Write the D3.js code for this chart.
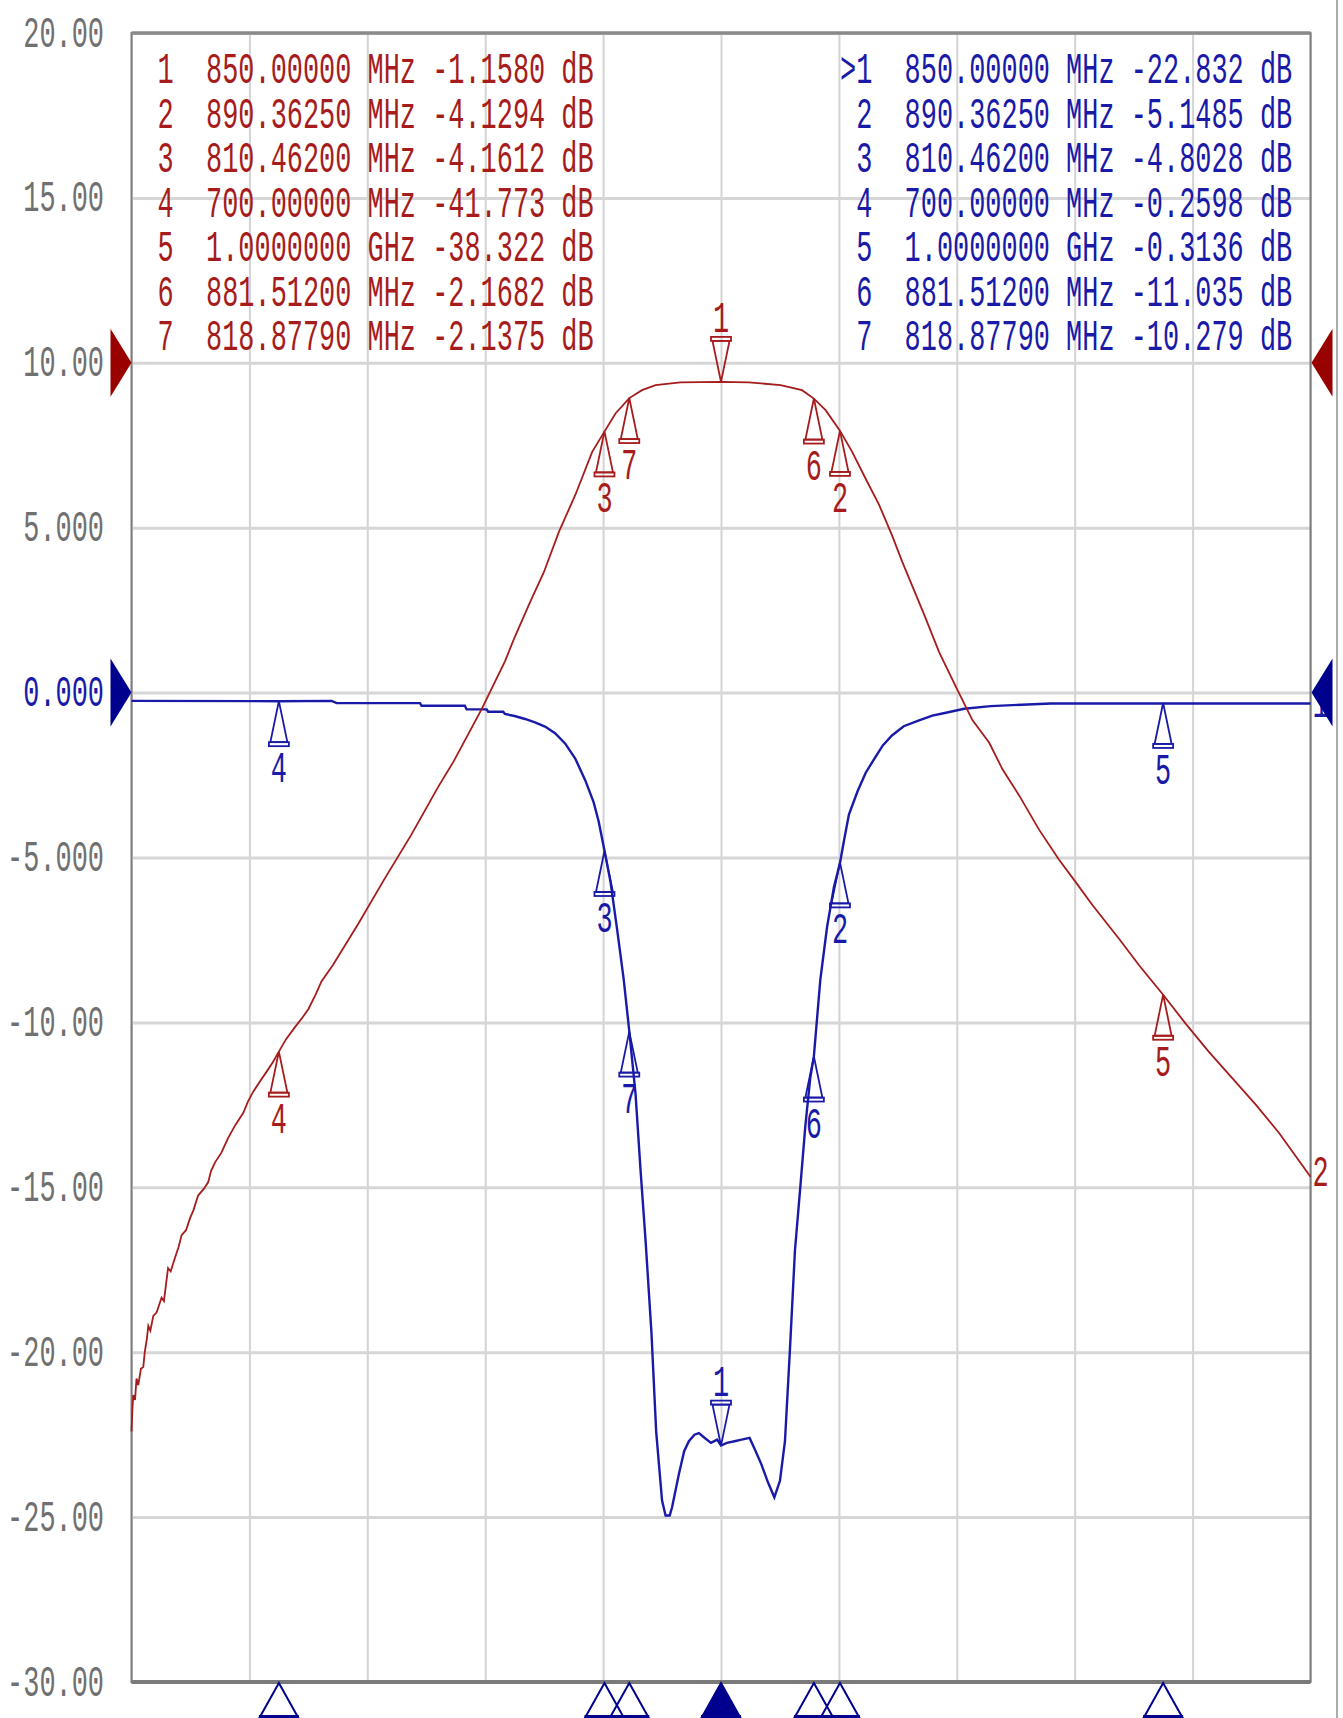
<!DOCTYPE html>
<html>
<head>
<meta charset="utf-8">
<script src="https://cdn.jsdelivr.net/npm/d3@7"></script>
<style>
  html, body { margin: 0; padding: 0; background: #fff; }
  svg { display: block; }
  text { font-family: "Liberation Mono", "DejaVu Sans Mono", monospace; white-space: pre; }
</style>
</head>
<body>
<svg id="chart" width="1343" height="1718"></svg>
<script>
// ---- data ----
const freqTicks = [650, 690, 730, 770, 810, 850, 890, 930, 970, 1010, 1050];
const yTicks = [20, 15, 10, 5, 0, -5, -10, -15, -20, -25, -30];
const yTickLabels = ["20.00", "15.00", "10.00", "5.000", "0.000", "-5.000",
  "-10.00", "-15.00", "-20.00", "-25.00", "-30.00"];

// S21 (red), real dB, 10 dB/div, ref 0 dB at the 10.00 line
const s21Freq = [
  650, 650.3, 650.6, 651.2, 651.7, 652.3, 653.2, 654.0, 654.5, 655.2,
  655.7, 656.4, 657.4, 658.5, 660.2, 661.0, 662.4, 663.3, 664.7, 666.0,
  667.0, 668.5, 669.8, 671.0, 672.6, 674.5, 676.0, 677.0, 678.3, 680.5,
  682.8, 685.3, 687.9, 689.5, 691.3, 693.5, 695.8, 698.0, 700.0, 702.5,
  705.4, 708.0, 710.0, 712.5, 714.5, 718.4, 727.0, 735.5, 745.0, 754.1,
  759.2, 768.8, 776.7, 780.1, 785.0, 789.9, 795.0, 800.6, 806.3, 810.5,
  814.2, 818.9, 823.2, 827.8, 836.2, 850.0, 859.4, 870.2, 877.5, 881.5,
  885.5, 890.4, 894.5, 899.0, 903.6, 908.0, 911.5, 918.9, 924.0, 930.2,
  935.3, 941.0, 945.5, 951.2, 957.9, 964.7, 970.4, 976.0, 985.1, 991.9,
  1000.0, 1007.7, 1015.6, 1023.6, 1031.5, 1039.4, 1050.0
];
const s21Db = [
  -64.8, -63.5, -62.6, -62.9, -61.6, -62.0, -61.0, -60.9, -60.0, -59.2,
  -58.4, -58.7, -57.8, -57.6, -56.7, -56.9, -54.9, -55.1, -54.3, -53.6,
  -52.9, -52.6, -51.9, -51.4, -50.5, -50.1, -49.7, -49.0, -48.5, -47.9,
  -47.0, -46.2, -45.5, -44.8, -44.2, -43.6, -43.0, -42.4, -41.77, -41.0,
  -40.3, -39.7, -39.2, -38.3, -37.5, -36.5, -34.0, -31.4, -28.6, -25.7,
  -24.2, -21.0, -18.1, -16.6, -14.6, -12.7, -10.25, -8.0, -5.4, -4.16,
  -3.07, -2.14, -1.66, -1.35, -1.19, -1.16, -1.19, -1.35, -1.66, -2.17,
  -2.87, -4.13, -5.4, -7.0, -8.6, -10.45, -12.07, -15.26, -17.55, -19.84,
  -21.67, -23.04, -24.65, -26.25, -28.31, -30.14, -31.51, -32.88, -34.94, -36.55,
  -38.32, -40.09, -41.8, -43.41, -45.0, -46.72, -49.36
];

// S11 (blue), 5 dB/div, ref 0 dB at the 0.000 line
const s11Freq = [
  650, 700, 717.9, 719.6, 747.9, 748.4, 763.1, 763.7, 770.5, 771,
  776.1, 776.7, 780, 783.5, 786.9, 790.3, 793.7, 797.1, 800.5, 804,
  806.8, 808.5, 810.5, 812.5, 814.8, 817, 818.9, 821, 822.7, 824.4,
  826.4, 828, 830, 831.2, 832.6, 833.4, 835.7, 837.5, 839.1, 841,
  842.5, 844.5, 846.6, 848.7, 850, 852, 854.6, 857, 859.7, 861.5,
  863.7, 866, 868.1, 870, 871.7, 873.4, 875.1, 876.9, 878.6, 880.3,
  881.5, 883.7, 886, 888.3, 890.4, 891.7, 893.4, 896.3, 899.1, 902,
  904.9, 908, 912, 917.2, 921.7, 926.3, 932.5, 941.5, 961.9, 1050
];
const s11Db = [
  -0.25, -0.26, -0.25, -0.32, -0.32, -0.40, -0.40, -0.51, -0.51, -0.58,
  -0.58, -0.65, -0.71, -0.80, -0.90, -1.03, -1.23, -1.54, -1.99, -2.67,
  -3.33, -3.91, -4.80, -5.73, -7.21, -8.70, -10.28, -12.16, -14.47, -16.6,
  -19.4, -22.4, -24.5, -24.95, -24.95, -24.7, -23.7, -23.0, -22.7, -22.5,
  -22.45, -22.6, -22.75, -22.65, -22.83, -22.75, -22.7, -22.65, -22.6, -22.95,
  -23.4, -23.96, -24.4, -23.9, -22.7, -19.9, -16.9, -15.0, -13.15, -11.67,
  -11.04, -8.70, -7.1, -5.9, -5.15, -4.5, -3.7, -3.0, -2.43, -2.01,
  -1.6, -1.3, -1.02, -0.84, -0.70, -0.61, -0.49, -0.41, -0.33, -0.33
];

const markerIds = [1, 2, 3, 4, 5, 6, 7];
const markerFreq = [850, 890.3625, 810.462, 700, 1000, 881.512, 818.8779];
const s21MarkerDb = [-1.1580, -4.1294, -4.1612, -41.773, -38.322, -2.1682, -2.1375];
const s11MarkerDb = [-22.832, -5.1485, -4.8028, -0.2598, -0.3136, -11.035, -10.279];

// ---- layout ----
const plot = { left: 131.5, right: 1310.5, top: 33, bottom: 1682 };
const RED = "#a61c1c", RED_DARK = "#990000";
const BLUE = "#1a1aa8", BLUE_DARK = "#00008f";
const GRAY_TEXT = "#707070";
const FONT_SIZE = 44;
const CHAR_W = 16.15;

const x = d3.scaleLinear().domain([650, 1050]).range([plot.left, plot.right]);
const y = d3.scaleLinear().domain([-30, 20]).range([plot.bottom, plot.top]);
const yRed = d3.scaleLinear().domain([-80, 20]).range([plot.bottom, plot.top]);

const svg = d3.select("#chart");

function fmtDb(v) {
  const intDigits = String(Math.floor(Math.abs(v))).length;
  return v.toFixed(5 - intDigits);
}
function fmtFreq(f) {
  return f >= 1000 ? `${(f / 1000).toFixed(7)} GHz` : `${f.toFixed(5)} MHz`;
}
function squeeze(sel) {
  sel.attr("textLength", (d, i, n) => n[i].textContent.length * CHAR_W)
    .attr("lengthAdjust", "spacingAndGlyphs");
}

// grid
svg.append("g")
  .attr("transform", `translate(0,${plot.bottom})`)
  .call(d3.axisBottom(x).tickValues(freqTicks).tickSize(-(plot.bottom - plot.top)).tickFormat(""))
  .call(g => g.select(".domain").remove())
  .call(g => g.selectAll("line").attr("stroke", "#d3d3d3").attr("stroke-width", 2));

svg.append("g")
  .attr("transform", `translate(${plot.left},0)`)
  .call(d3.axisLeft(y).tickValues(yTicks).tickSize(-(plot.right - plot.left)).tickFormat(""))
  .call(g => g.select(".domain").remove())
  .call(g => g.selectAll("line").attr("stroke", "#d6d6d6").attr("stroke-width", 3));

// y labels
svg.append("g")
  .attr("transform", "translate(104,0)")
  .call(d3.axisLeft(y).tickValues(yTicks).tickSize(0).tickPadding(0)
    .tickFormat((d, i) => yTickLabels[i]))
  .call(g => g.select(".domain").remove())
  .attr("font-family", null)
  .attr("font-size", FONT_SIZE)
  .call(g => g.selectAll("text")
    .attr("dy", "13px")
    .attr("fill", d => d === 0 ? BLUE : GRAY_TEXT)
    .call(squeeze));

// frame
svg.append("rect")
  .attr("x", plot.left).attr("y", plot.top)
  .attr("width", plot.right - plot.left).attr("height", plot.bottom - plot.top)
  .attr("fill", "none").attr("stroke", "#7c7c7c").attr("stroke-width", 2);
svg.append("line")
  .attr("x1", plot.left).attr("x2", plot.right).attr("y1", plot.top).attr("y2", plot.top)
  .attr("stroke", "#8a8a8a").attr("stroke-width", 3.5);
svg.append("line")
  .attr("x1", plot.left).attr("x2", plot.right).attr("y1", plot.bottom).attr("y2", plot.bottom)
  .attr("stroke", "#7a7a7a").attr("stroke-width", 4);
svg.append("line")
  .attr("x1", 1337).attr("x2", 1337).attr("y1", 0).attr("y2", 1718)
  .attr("stroke", "#909090").attr("stroke-width", 1.5);

// marker tables
const rows = markerIds.map((id, i) => ({ id, i }));
svg.append("g").attr("font-size", FONT_SIZE).attr("fill", RED)
  .selectAll("text").data(rows).join("text")
  .attr("x", 157.6).attr("y", d => 83 + d.i * 44.5)
  .text(d => `${d.id}  ${fmtFreq(markerFreq[d.i])} ${fmtDb(s21MarkerDb[d.i])} dB`)
  .call(squeeze);

svg.append("g").attr("font-size", FONT_SIZE).attr("fill", BLUE)
  .selectAll("text").data(rows).join("text")
  .attr("x", d => d.id === 1 ? 840 : 840 + CHAR_W).attr("y", d => 83 + d.i * 44.5)
  .text(d => `${d.id === 1 ? ">" : ""}${d.id}  ${fmtFreq(markerFreq[d.i])} ${fmtDb(s11MarkerDb[d.i])} dB`)
  .call(squeeze);

// traces
const s11Pts = d3.zip(s11Freq, s11Db);
const s21Pts = d3.zip(s21Freq, s21Db);

svg.append("path").datum(s11Pts)
  .attr("d", d3.line().x(d => x(d[0])).y(d => y(d[1])))
  .attr("fill", "none").attr("stroke", BLUE).attr("stroke-width", 2.4);

svg.append("path").datum(s21Pts)
  .attr("d", d3.line().x(d => x(d[0])).y(d => yRed(d[1])))
  .attr("fill", "none").attr("stroke", RED).attr("stroke-width", 1.8);

// trace markers
function drawMarkers(values, scale, color) {
  const g = svg.append("g").attr("stroke", color).attr("fill", "none").attr("stroke-width", 1.8);
  markerIds.forEach((id, i) => {
    const px = x(markerFreq[i]), py = scale(values[i]);
    const s = id === 1 ? -1 : 1;
    g.append("path")
      .attr("d", `M${px},${py}L${px + 8.5},${py + s * 41}L${px - 8.5},${py + s * 41}Z`);
    g.append("rect")
      .attr("x", px - 10).attr("y", s > 0 ? py + 41 : py - 45)
      .attr("width", 20).attr("height", 4);
    g.append("text")
      .attr("x", px).attr("y", s > 0 ? py + 81 : py - 50)
      .attr("text-anchor", "middle")
      .attr("stroke", "none").attr("fill", color)
      .attr("font-size", FONT_SIZE)
      .text(id)
      .call(squeeze);
  });
}
drawMarkers(s21MarkerDb, yRed, RED);
drawMarkers(s11MarkerDb, y, BLUE);

// trace end labels
svg.append("text")
  .attr("x", plot.right + 2).attr("y", yRed(s21Db[s21Db.length - 1]) + 9)
  .attr("font-size", FONT_SIZE).attr("fill", RED).text("2").call(squeeze);
svg.append("text")
  .attr("x", plot.right + 2).attr("y", y(s11Db[s11Db.length - 1]) + 14)
  .attr("font-size", FONT_SIZE).attr("fill", BLUE).text("1").call(squeeze);

// reference level arrows
function refArrows(py, color) {
  svg.append("path")
    .attr("d", `M${plot.left - 21},${py - 34}L${plot.left},${py}L${plot.left - 21},${py + 34}Z`)
    .attr("fill", color);
  svg.append("path")
    .attr("d", `M${plot.right + 22},${py - 34}L${plot.right + 1},${py}L${plot.right + 22},${py + 34}Z`)
    .attr("fill", color);
}
refArrows(yRed(0), RED_DARK);
refArrows(y(0), BLUE_DARK);

// bottom marker flags (active channel)
const flags = svg.append("g").attr("stroke", BLUE_DARK).attr("stroke-width", 2);
markerIds.forEach((id, i) => {
  const px = x(markerFreq[i]);
  const top = plot.bottom + 1;
  flags.append("path")
    .attr("d", `M${px},${top}L${px + 19},${top + 34}L${px - 19},${top + 34}Z`)
    .attr("fill", id === 1 ? BLUE_DARK : "none");
  flags.append("line")
    .attr("x1", px - 20).attr("x2", px + 20)
    .attr("y1", top + 34).attr("y2", top + 34)
    .attr("stroke-width", 4);
});
</script>
</body>
</html>
